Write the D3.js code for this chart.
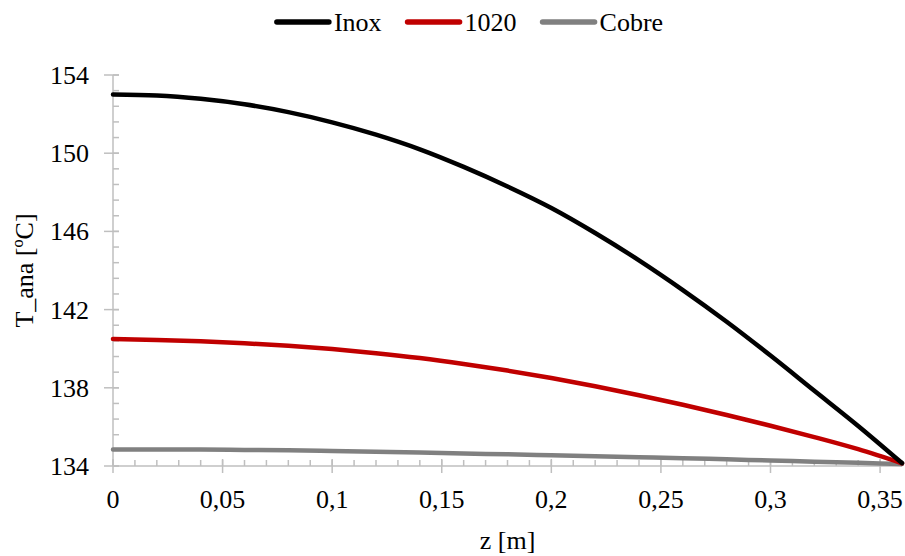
<!DOCTYPE html>
<html>
<head>
<meta charset="utf-8">
<script src="https://cdn.jsdelivr.net/npm/d3@7/dist/d3.min.js"></script>
</head>
<body style="margin:0">
<svg id="chart" width="905" height="556"></svg>
<script>
// z positions [m]
var zValues = [0, 0.02, 0.04, 0.06, 0.08, 0.10, 0.12, 0.14, 0.16, 0.18,
               0.20, 0.22, 0.24, 0.26, 0.28, 0.30, 0.32, 0.34, 0.36];

// T_ana [ºC]
var inox = [153.0, 152.95, 152.78, 152.5, 152.1, 151.58, 150.95, 150.2, 149.3, 148.3,
            147.2, 145.92, 144.52, 143.0, 141.38, 139.65, 137.85, 136.05, 134.15];
var aco1020 = [140.5, 140.45, 140.38, 140.28, 140.15, 139.98, 139.77, 139.52, 139.22, 138.88,
               138.5, 138.08, 137.62, 137.13, 136.61, 136.06, 135.48, 134.86, 134.14];
var cobre = [134.85, 134.85, 134.84, 134.82, 134.8, 134.77, 134.73, 134.69, 134.64, 134.6,
             134.55, 134.5, 134.45, 134.4, 134.34, 134.28, 134.22, 134.16, 134.1];

var seriesNames = ["Inox", "1020", "Cobre"];
var seriesColors = ["#000000", "#C00000", "#808080"];

var xTicks = [0, 0.05, 0.1, 0.15, 0.2, 0.25, 0.3, 0.35];
var yTicks = [134, 138, 142, 146, 150, 154];

var svg = d3.select("#chart");
var axisColor = "#BFBFBF";
var textStyle = "font-family: 'Liberation Serif'; font-size: 26px";

var xScale = d3.scaleLinear().domain([0, 0.36]).range([113, 902]);
var yScale = d3.scaleLinear().domain([134, 154]).range([466, 75]);

var fmt = function(v) { return String(v).replace(".", ","); };

// minor ticks (inside)
var xMinor = d3.range(0, 37).map(function(i) { return i / 100; });
var yMinor = d3.range(0, 26).map(function(i) { return 134 + i * 0.8; });

svg.append("g").selectAll("line").data(xMinor).enter().append("line")
    .attr("x1", function(d) { return xScale(d); }).attr("x2", function(d) { return xScale(d); })
    .attr("y1", yScale(134)).attr("y2", yScale(134) - 6)
    .attr("stroke", axisColor).attr("stroke-width", 1.5);

svg.append("g").selectAll("line").data(yMinor).enter().append("line")
    .attr("y1", function(d) { return yScale(d); }).attr("y2", function(d) { return yScale(d); })
    .attr("x1", xScale(0)).attr("x2", xScale(0) + 6)
    .attr("stroke", axisColor).attr("stroke-width", 1.5);

// major ticks (crossing)
svg.append("g").selectAll("line").data(xTicks).enter().append("line")
    .attr("x1", function(d) { return xScale(d); }).attr("x2", function(d) { return xScale(d); })
    .attr("y1", yScale(134) - 7).attr("y2", yScale(134) + 7)
    .attr("stroke", axisColor).attr("stroke-width", 1.5);

svg.append("g").selectAll("line").data(yTicks).enter().append("line")
    .attr("y1", function(d) { return yScale(d); }).attr("y2", function(d) { return yScale(d); })
    .attr("x1", xScale(0) - 9).attr("x2", xScale(0) + 6)
    .attr("stroke", axisColor).attr("stroke-width", 1.5);

// axis lines
svg.append("line").attr("x1", xScale(0)).attr("x2", xScale(0.36))
    .attr("y1", yScale(134)).attr("y2", yScale(134))
    .attr("stroke", axisColor).attr("stroke-width", 1.5);
svg.append("line").attr("x1", xScale(0)).attr("x2", xScale(0))
    .attr("y1", yScale(134)).attr("y2", yScale(154))
    .attr("stroke", axisColor).attr("stroke-width", 1.5);

// tick labels
svg.append("g").selectAll("text").data(xTicks).enter().append("text")
    .attr("x", function(d) { return xScale(d); })
    .attr("y", 508)
    .attr("text-anchor", "middle")
    .attr("style", textStyle)
    .text(fmt);

svg.append("g").selectAll("text").data(yTicks).enter().append("text")
    .attr("x", 89)
    .attr("y", function(d) { return yScale(d) + 9; })
    .attr("text-anchor", "end")
    .attr("style", textStyle)
    .text(function(d) { return d; });

// axis titles
svg.append("text")
    .attr("x", (xScale(0) + xScale(0.36)) / 2).attr("y", 549)
    .attr("text-anchor", "middle")
    .attr("style", textStyle)
    .text("z [m]");

svg.append("text")
    .attr("transform", "translate(33," + yScale(144) + ") rotate(-90)")
    .attr("text-anchor", "middle")
    .attr("style", textStyle)
    .text("T_ana [ºC]");

// series lines
var allSeries = [inox, aco1020, cobre];
var lineGen = d3.line()
    .x(function(d, i) { return xScale(zValues[i]); })
    .y(function(d) { return yScale(d); })
    .curve(d3.curveMonotoneX);

// back to front: cobre, 1020, inox
[2, 1, 0].forEach(function(k) {
    svg.append("path")
        .datum(allSeries[k])
        .attr("d", lineGen)
        .attr("fill", "none")
        .attr("stroke", seriesColors[k])
        .attr("stroke-width", 4.5)
        .attr("stroke-linejoin", "round")
        .attr("stroke-linecap", "round");
});

// legend
var legend = svg.append("g");
var lx = 0;
seriesNames.forEach(function(name, i) {
    var g = legend.append("g").attr("transform", "translate(" + lx + ",0)");
    g.append("line").attr("x1", 0).attr("x2", 52)
        .attr("y1", 22).attr("y2", 22)
        .attr("stroke", seriesColors[i]).attr("stroke-width", 5.5)
        .attr("stroke-linecap", "round");
    var t = g.append("text").attr("x", 57).attr("y", 31)
        .attr("style", textStyle)
        .text(name);
    lx += 57 + t.node().getComputedTextLength() + 26;
});
var lw = lx - 26;
legend.attr("transform", "translate(" + (470 - lw / 2) + ",0)");
</script>
</body>
</html>
